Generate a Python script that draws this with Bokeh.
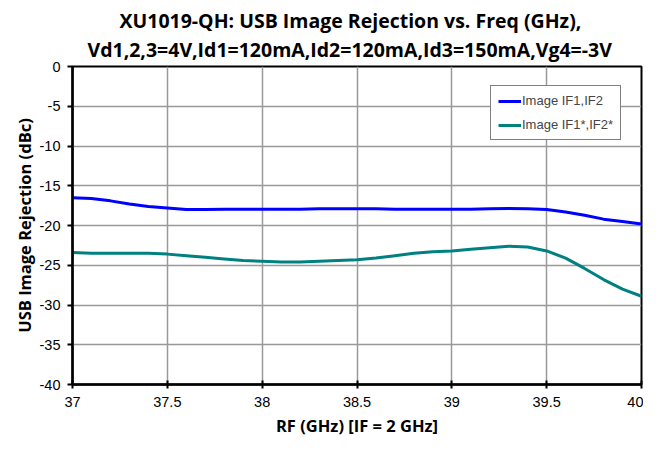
from bokeh.plotting import figure
from bokeh.models import Range1d, FixedTicker, Legend, LegendItem, Title
from bokeh.embed import file_html
from bokeh.resources import INLINE

freq = [37.0, 37.1, 37.2, 37.3, 37.4, 37.5, 37.6, 37.7, 37.8, 37.9,
        38.0, 38.1, 38.2, 38.3, 38.4, 38.5, 38.6, 38.7, 38.8, 38.9,
        39.0, 39.1, 39.2, 39.3, 39.4, 39.5, 39.6, 39.7, 39.8, 39.9, 40.0]
image_if1_if2 = [-16.5, -16.6, -16.9, -17.3, -17.6, -17.8, -18.0, -18.0, -17.95, -17.95,
                 -17.95, -17.95, -17.95, -17.9, -17.9, -17.9, -17.9, -17.95, -17.95, -17.95,
                 -17.95, -17.95, -17.9, -17.85, -17.9, -18.0, -18.3, -18.7, -19.2, -19.5, -19.8]
image_if1s_if2s = [-23.4, -23.5, -23.5, -23.5, -23.5, -23.6, -23.8, -24.0, -24.2, -24.4,
                   -24.5, -24.6, -24.6, -24.5, -24.4, -24.3, -24.1, -23.8, -23.5, -23.3,
                   -23.2, -23.0, -22.8, -22.6, -22.7, -23.2, -24.1, -25.4, -26.8, -28.0, -28.9]
series_names = ["Image IF1,IF2", "Image IF1*,IF2*"]
x_ticks = [37, 37.5, 38, 38.5, 39, 39.5, 40]
x_tick_labels = ["37", "37.5", "38", "38.5", "39", "39.5", "40"]
y_ticks = [0, -5, -10, -15, -20, -25, -30, -35, -40]
y_tick_labels = ["0", "-5", "-10", "-15", "-20", "-25", "-30", "-35", "-40"]
title_lines = ["XU1019-QH: USB Image Rejection vs. Freq (GHz),",
               "Vd1,2,3=4V,Id1=120mA,Id2=120mA,Id3=150mA,Vg4=-3V"]

p = figure(width=643, height=439, output_backend="svg", toolbar_location=None,
           x_range=Range1d(37, 40), y_range=Range1d(-40, 0),
           min_border_left=72, min_border_right=2, min_border_top=66, min_border_bottom=40)

# second line first (closest to the frame), then the first line above it
p.add_layout(Title(text=title_lines[1], align="left", offset=15, text_font="Open Sans",
                   text_font_style="bold", text_font_size="19.5px",
                   text_color="black", standoff=7), "above")
p.add_layout(Title(text=title_lines[0], align="left", offset=43, text_font="Open Sans",
                   text_font_style="bold", text_font_size="19.5px",
                   text_color="black", standoff=-7, padding=(4, 0, 0, 0)), "above")

l1 = p.line(freq, image_if1_if2, line_color="#0000FF", line_width=3)
l2 = p.line(freq, image_if1s_if2s, line_color="#008080", line_width=3)

legend = Legend(items=[LegendItem(label=series_names[0], renderers=[l1]),
                       LegendItem(label=series_names[1], renderers=[l2])],
                location=(418, 244), label_text_font="Liberation Sans",
                label_text_font_size="13px", glyph_width=23, glyph_height=14,
                label_height=14, label_standoff=1, spacing=9, padding=7, margin=0,
                border_line_color="black", border_line_width=1.2,
                background_fill_alpha=1)
p.add_layout(legend)

p.xaxis.ticker = FixedTicker(ticks=x_ticks)
p.xaxis.major_label_overrides = {t: l for t, l in zip(x_ticks, x_tick_labels)}
p.yaxis.ticker = FixedTicker(ticks=y_ticks)
p.yaxis.major_label_overrides = {t: l for t, l in zip(y_ticks, y_tick_labels)}
p.xaxis.minor_tick_line_color = None
p.yaxis.minor_tick_line_color = None

for ax in (p.xaxis, p.yaxis):
    ax.axis_line_color = "black"
    ax.axis_line_width = 2.5
    ax.major_tick_line_color = "black"
    ax.major_tick_line_width = 2
    ax.major_label_text_font = "Liberation Sans"
    ax.major_label_text_font_size = "14.5px"
    ax.major_label_text_color = "black"
    ax.axis_label_text_font = "Open Sans"
    ax.axis_label_text_font_style = "bold"
    ax.axis_label_text_font_size = "16.5px"
    ax.axis_label_text_color = "black"

p.xaxis.major_tick_in = 4
p.xaxis.major_tick_out = 4
p.yaxis.major_tick_in = 0
p.yaxis.major_tick_out = 5
p.xaxis.major_label_standoff = 8
p.yaxis.major_label_standoff = 7
p.xaxis.axis_label = "RF (GHz) [IF = 2 GHz]"
p.yaxis.axis_label = "USB Image Rejection (dBc)"
p.xaxis.axis_label_standoff = 4
p.yaxis.axis_label_standoff = 1

p.xgrid.ticker = FixedTicker(ticks=x_ticks)
p.ygrid.ticker = FixedTicker(ticks=y_ticks)
p.grid.grid_line_color = "#999999"
p.grid.grid_line_width = 1.5
p.outline_line_color = "black"
p.outline_line_width = 2
p.background_fill_color = "white"
p.border_fill_color = "white"

open("out.html", "w").write(file_html(p, INLINE))
